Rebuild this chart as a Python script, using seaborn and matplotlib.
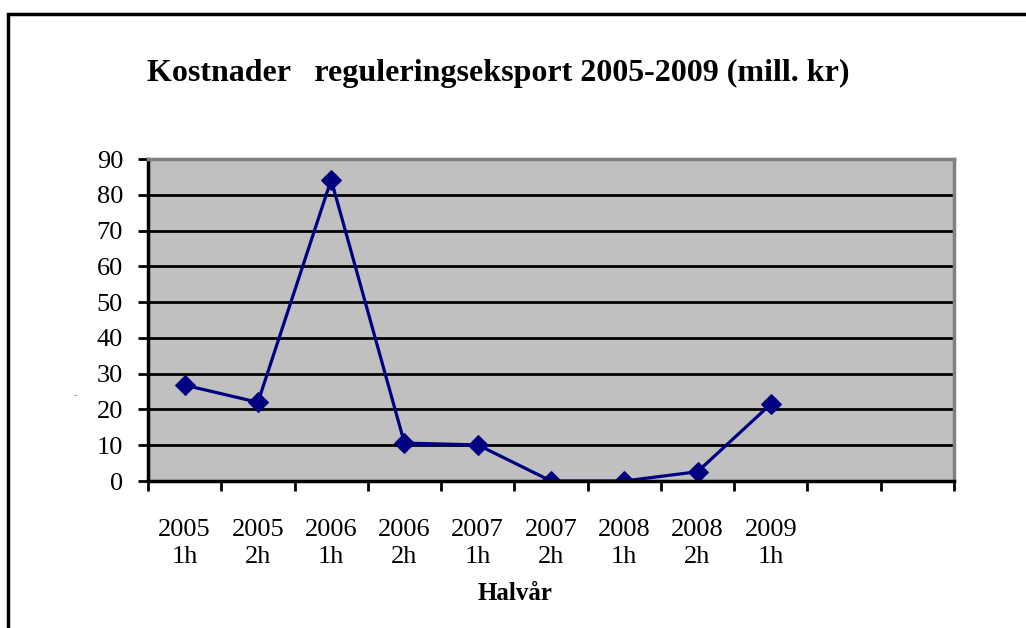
import seaborn as sns
import matplotlib.pyplot as plt
import pandas as pd
from matplotlib.patches import Rectangle

# data (mill. kr per half year)
periods = ["2005\n1h", "2005\n2h", "2006\n1h", "2006\n2h", "2007\n1h",
           "2007\n2h", "2008\n1h", "2008\n2h", "2009\n1h"]
costs = [26.8, 22.0, 84.2, 10.6, 10.1, 0.0, 0.0, 2.6, 21.5]
n_slots = 11  # the category axis has two empty slots at the end
y_ticks = [0, 10, 20, 30, 40, 50, 60, 70, 80, 90]

df = pd.DataFrame({"pos": range(len(costs)), "cost": costs})

sns.set_style("white")
plt.rcParams["font.family"] = ["Liberation Serif", "DejaVu Serif"]
plt.rcParams["text.color"] = "black"
plt.rcParams["xtick.color"] = "black"
plt.rcParams["ytick.color"] = "black"

fig = plt.figure(figsize=(10.26, 6.28), dpi=100)
W, H = 1026, 628
ax = fig.add_axes([148 / W, 1 - 481 / H, (954 - 148) / W, (481 - 159) / H])
ax.set_facecolor("#c0c0c0")

sns.lineplot(data=df, x="pos", y="cost", ax=ax, color="#000080", lw=2.3,
             marker="D", markersize=10, markeredgecolor="#000080", sort=False)

ax.set_xlim(-0.5, n_slots - 0.5)
ax.set_ylim(0, 90)
ax.set_yticks(y_ticks)
ax.set_yticklabels([str(v) for v in y_ticks], fontsize=19)
ax.yaxis.grid(True, color="black", lw=2.0)
ax.set_axisbelow(True)

# ticks at slot boundaries, labels at slot centres
ax.set_xticks([i - 0.5 for i in range(n_slots + 1)])
ax.set_xticklabels([])
ax.set_xticks(range(len(periods)), minor=True)
ax.set_xticklabels(periods, minor=True, fontsize=19, linespacing=1.3)
ax.tick_params(axis="x", which="minor", bottom=True, length=0, pad=27)
ax.tick_params(axis="both", which="major", bottom=True, left=True,
               direction="out", length=7, width=2, color="black")
ax.tick_params(axis="y", pad=11)

for s in ["left", "bottom"]:
    ax.spines[s].set_color("black")
    ax.spines[s].set_linewidth(2.5)
for s in ["top", "right"]:
    ax.spines[s].set_color("#808080")
    ax.spines[s].set_linewidth(2.5)

ax.set_xlabel("")
ax.set_ylabel("")

fig.text(515 / W, 1 - 593 / H, "Halvår", ha="center", va="center",
         fontsize=18, fontweight="bold")
fig.text(498 / W, 1 - 73 / H,
         "Kostnader   reguleringseksport 2005-2009 (mill. kr)",
         ha="center", va="center", fontsize=23, fontweight="bold")
fig.text(75 / W, 1 - 396 / H, "-", ha="center", va="center", fontsize=7,
         color="#808080")

# outer chart frame (cut off at right and bottom edges)
fig.patches.append(Rectangle((8 / W, -0.05), 1.1, 1 - 14 / H + 0.05,
                             transform=fig.transFigure, fill=False,
                             edgecolor="black", lw=2.5))

fig.savefig("out.png", dpi=100)
